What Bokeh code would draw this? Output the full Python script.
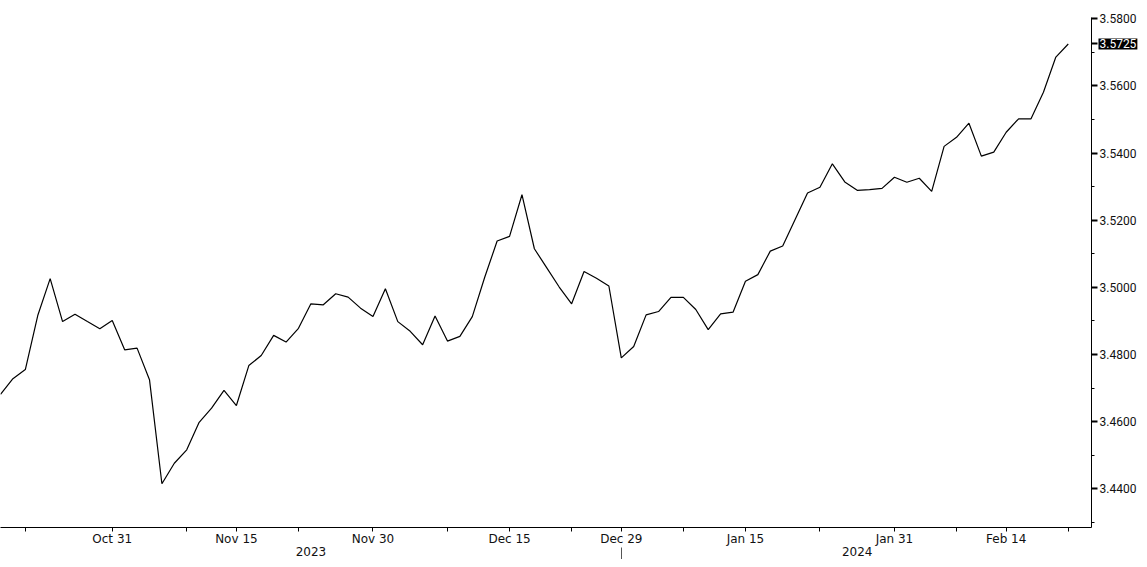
from bokeh.plotting import figure
from bokeh.models import (Range1d, FixedTicker, LinearAxis, Label, CustomJSTickFormatter)
from bokeh.embed import file_html
from bokeh.resources import INLINE

# ---- data (trading-day series) ----
values = [
    3.4681, 3.4728, 3.4755, 3.4916, 3.5026, 3.4898, 3.4920, 3.4898, 3.4877, 3.4901,
    3.4814, 3.4819, 3.4725, 3.4415, 3.4476, 3.4516, 3.4598, 3.4640, 3.4693, 3.4648,
    3.4767, 3.4797, 3.4857, 3.4837, 3.4878, 3.4951, 3.4948, 3.4981, 3.4971, 3.4938,
    3.4913, 3.4996, 3.4898, 3.4869, 3.4829, 3.4915, 3.4840, 3.4854, 3.4913, 3.5030,
    3.5138, 3.5152, 3.5276, 3.5115, 3.5058, 3.5001, 3.4951, 3.5047, 3.5027, 3.5004,
    3.4790, 3.4824, 3.4918, 3.4928, 3.4970, 3.4970, 3.4934, 3.4874, 3.4921, 3.4926,
    3.5018, 3.5038, 3.5108, 3.5123, 3.5202, 3.5281, 3.5298, 3.5368, 3.5314, 3.5289,
    3.5291, 3.5295, 3.5328, 3.5313, 3.5325, 3.5286, 3.5420, 3.5447, 3.5489, 3.5391,
    3.5403, 3.5462, 3.5502, 3.5502, 3.5581, 3.5686, 3.5725,
]
x_index = list(range(len(values)))

tick_positions = [2, 9, 15, 19, 24, 30, 36, 41, 46, 50, 55, 60, 66, 72, 77, 81, 86]
label_positions = [9, 19, 30, 41, 50, 60, 72, 81]
tick_labels = ["Oct 31", "Nov 15", "Nov 30", "Dec 15", "Dec 29", "Jan 15", "Jan 31", "Feb 14"]
year_positions = [25, 69]
year_labels = ["2023", "2024"]
year_break = [50]
y_ticks = [3.44, 3.46, 3.48, 3.50, 3.52, 3.54, 3.56, 3.58]
y_minor = [3.43, 3.45, 3.47, 3.49, 3.51, 3.53, 3.55, 3.57]
last_value = values[-1]

XFONT = "DejaVu Sans"
YFONT = "Roboto"

# ---- geometry ----
W, H = 1139, 559
TOP = 17
px_per_idx = 12.45
x0 = 0.0
x1 = 1094 / px_per_idx
px_per_val = 3357.0
y_top = 3.58 + (18.3 - TOP) / px_per_val
y_bot = 3.58 - 508.7 / px_per_val

p = figure(width=W, height=H, output_backend="svg", toolbar_location=None,
           x_range=Range1d(x0, x1), y_range=Range1d(y_bot, y_top),
           y_axis_location="right",
           min_border_left=0, min_border_top=TOP, min_border_right=W - 1094,
           min_border_bottom=H - 527)
p.outline_line_color = None
p.grid.visible = False
p.background_fill_color = "white"
p.border_fill_color = "white"

p.line(x_index, values, line_color="black", line_width=1.2)

# x axis (dates)
xa = p.xaxis[0]
xa.ticker = FixedTicker(ticks=tick_positions, minor_ticks=[])
ov = {t: "" for t in tick_positions}
ov.update({pos: lab for pos, lab in zip(label_positions, tick_labels)})
xa.major_label_overrides = ov
xa.axis_line_color = "black"
xa.axis_line_width = 1
xa.major_tick_line_color = "black"
xa.major_tick_out = 4
xa.major_tick_in = 0
xa.minor_tick_line_color = None
xa.major_label_standoff = 0
xa.major_label_text_font = XFONT
xa.major_label_text_font_size = "12px"
xa.major_label_text_color = "#111111"

# year axis (with a long minor tick marking the year change)
ya2 = LinearAxis(ticker=FixedTicker(ticks=year_positions, minor_ticks=year_break))
ya2.major_label_overrides = {pos: lab for pos, lab in zip(year_positions, year_labels)}
ya2.axis_line_color = None
ya2.major_tick_line_color = None
ya2.major_tick_out = 0
ya2.major_tick_in = 0
ya2.minor_tick_line_color = "#555555"
ya2.minor_tick_in = 1
ya2.minor_tick_out = 16
ya2.major_label_standoff = -18
ya2.major_label_text_font = XFONT
ya2.major_label_text_font_size = "12px"
ya2.major_label_text_color = "#111111"
p.add_layout(ya2, "below")

# y axis (right); an extra unlabelled tick at the last value acts as the tag's pointer
yax = p.yaxis[0]
yax.ticker = FixedTicker(ticks=y_ticks + [last_value], minor_ticks=y_minor)
yax.formatter = CustomJSTickFormatter(args=dict(last=last_value),
                                      code="return Math.abs(tick - last) < 1e-9 ? '' : tick.toFixed(4);")
yax.axis_line_color = "black"
yax.major_tick_line_color = "black"
yax.major_tick_line_width = 2
yax.major_tick_out = 6
yax.major_tick_in = 0
yax.minor_tick_line_color = "black"
yax.minor_tick_out = 3
yax.minor_tick_in = 0
yax.major_label_standoff = 2
yax.major_label_text_font = YFONT
yax.major_label_text_font_size = "12px"
yax.major_label_text_color = "#111111"

# last value tag (side panel so it is not clipped by the frame)
p.add_layout(Label(x=1101 / px_per_idx, y=last_value, text=f"{last_value:.4f}",
                   text_color="white", text_font=YFONT, text_font_size="12px",
                   text_baseline="middle", text_align="left",
                   background_fill_color="black", background_fill_alpha=1.0,
                   padding=1), "above")

open("out.html", "w").write(file_html(p, INLINE))
